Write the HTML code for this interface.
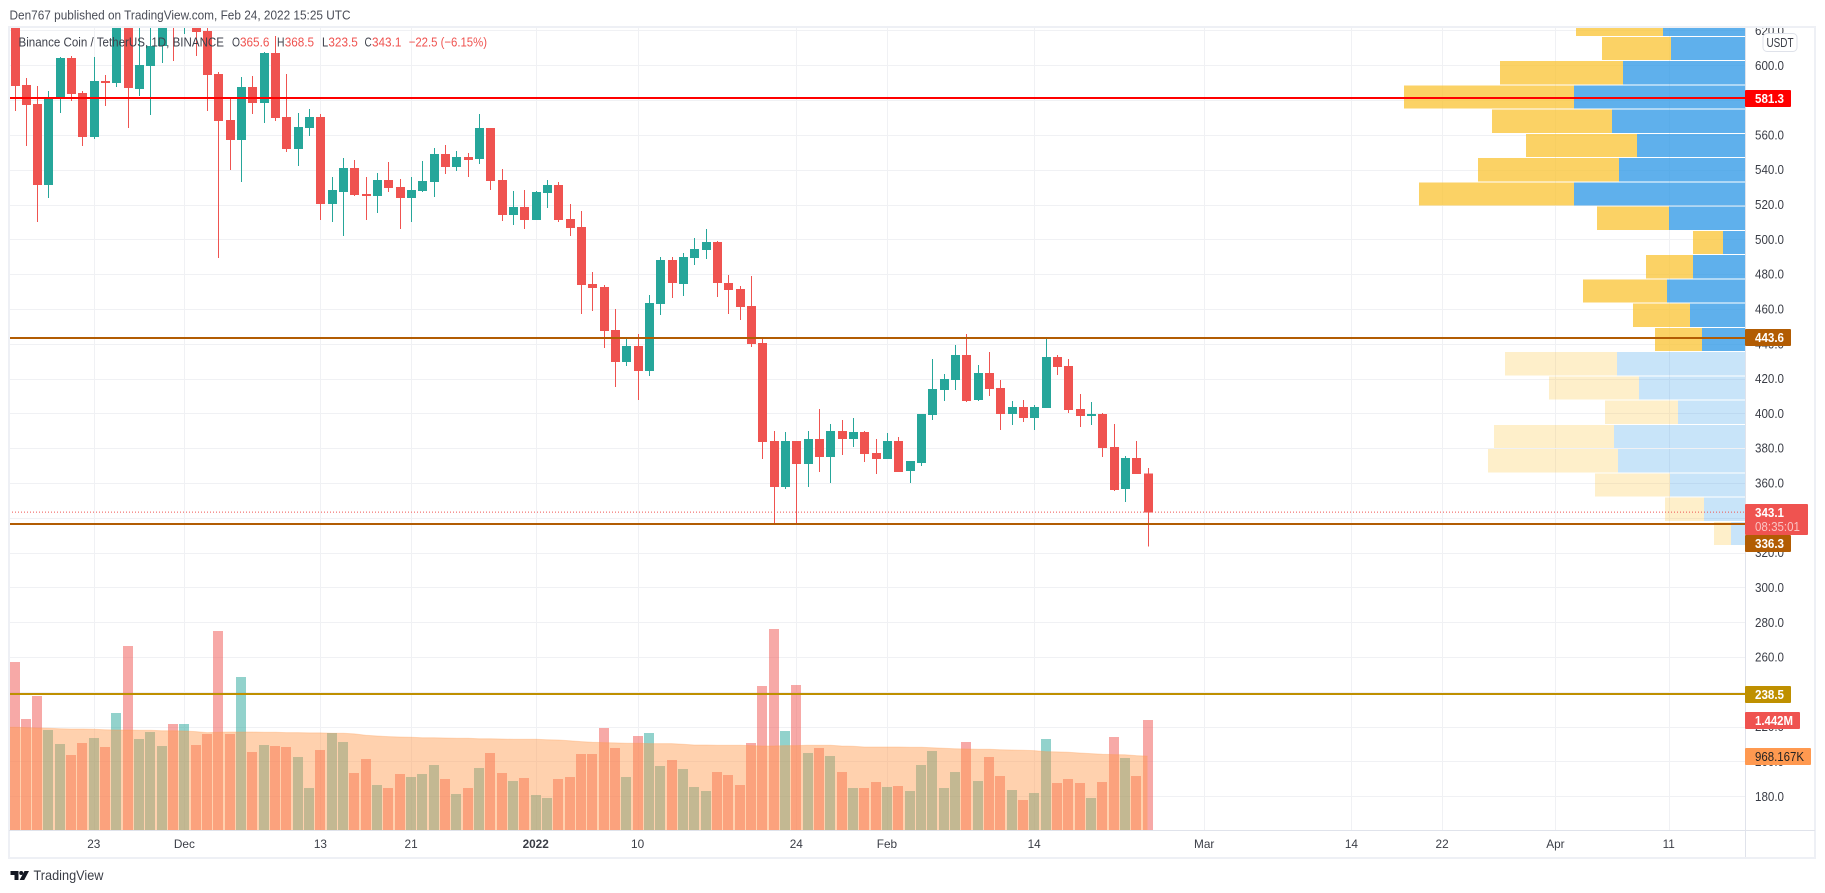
<!DOCTYPE html>
<html lang="en">
<head>
<meta charset="utf-8">
<title>BNB/USDT TradingView chart</title>
<style>
html,body{margin:0;padding:0;background:#fff;width:1825px;height:893px;overflow:hidden}
svg{display:block;font-family:"Liberation Sans",sans-serif}
.ax{font-size:12.5px;fill:#3a3d46}
.lb{font-size:12.5px;fill:#fff;font-weight:700}
.lg{font-size:13px;fill:#3f424c}
.lv{font-size:13px;fill:#ef5350}
</style>
</head>
<body>
<svg id="chart" xmlns="http://www.w3.org/2000/svg" width="1825" height="893" viewBox="0 0 1825 893">
  <defs>
    <clipPath id="pane"><rect x="9" y="28" width="1736" height="802"/></clipPath>
    <clipPath id="axisclip"><rect x="1746" y="28" width="68" height="802"/></clipPath>
  </defs>
  <rect width="1825" height="893" fill="#fff"/>
  <text x="9.5" y="19.5" font-size="13" fill="#4a4d57" textLength="341" lengthAdjust="spacingAndGlyphs">Den767 published on TradingView.com, Feb 24, 2022 15:25 UTC</text>
  <g id="gridLayer"></g>
  <g clip-path="url(#pane)">
    <g id="volumeLayer"></g>
    <g id="maLayer"></g>
    <g id="profileLayer"></g>
    <g id="candleLayer"></g>
    <g id="levelLayer"></g>
  </g>
  <g fill="none">
    <rect x="9" y="27" width="1806" height="831" stroke="#eef0f5" stroke-width="2"/>
    <line x1="1745.5" y1="28" x2="1745.5" y2="857" stroke="#e0e3eb"/>
    <line x1="9" y1="830.5" x2="1815" y2="830.5" stroke="#e0e3eb"/>
  </g>
  <g id="priceAxisLayer" clip-path="url(#axisclip)"></g>
  <g id="timeAxisLayer"></g>
  <g id="labelLayer"></g>
  <g>
    <text class="lg" x="18.5" y="46.5" textLength="205.5" lengthAdjust="spacingAndGlyphs">Binance Coin / TetherUS, 1D, BINANCE</text>
    <text class="lg" x="232" y="46.5" textLength="8" lengthAdjust="spacingAndGlyphs">O</text>
    <text class="lv" x="240" y="46.5" textLength="29.4" lengthAdjust="spacingAndGlyphs">365.6</text>
    <text class="lg" x="277" y="46.5" textLength="7.5" lengthAdjust="spacingAndGlyphs">H</text>
    <text class="lv" x="284.7" y="46.5" textLength="29.4" lengthAdjust="spacingAndGlyphs">368.5</text>
    <text class="lg" x="322" y="46.5" textLength="6.2" lengthAdjust="spacingAndGlyphs">L</text>
    <text class="lv" x="328.4" y="46.5" textLength="29.4" lengthAdjust="spacingAndGlyphs">323.5</text>
    <text class="lg" x="364.5" y="46.5" textLength="7.2" lengthAdjust="spacingAndGlyphs">C</text>
    <text class="lv" x="372" y="46.5" textLength="29.4" lengthAdjust="spacingAndGlyphs">343.1</text>
    <text class="lv" x="408.7" y="46.5" textLength="78.3" lengthAdjust="spacingAndGlyphs">−22.5 (−6.15%)</text>
  </g>
  <g>
    <rect x="1763" y="33.5" width="34" height="18" rx="4" fill="#fff" stroke="#dfe2ea"/>
    <text x="1766.5" y="47" font-size="12.5" fill="#3a3d46" textLength="27" lengthAdjust="spacingAndGlyphs">USDT</text>
  </g>
  <g>
    <g fill="#131722">
      <rect x="10.5" y="871" width="8" height="4"/>
      <rect x="14.5" y="871" width="4" height="9"/>
      <circle cx="21.2" cy="873" r="2"/>
      <polygon points="24.5,871 29,871 24.2,880 19.6,880"/>
    </g>
    <text x="33.5" y="880" font-size="13.6" fill="#3a3d46" textLength="70" lengthAdjust="spacingAndGlyphs">TradingView</text>
  </g>
</svg>
<script>
const openPrices = [632,588.7,577.8,531.2,580.8,604.2,584.1,558.8,591,589.8,628,586.4,599.6,611.1,650,630,640,619.7,595,568.6,557.1,587.5,578.3,607,570.3,551.9,564,570.3,520.3,527.2,541,526,524.9,534.1,530.1,523.7,527.8,532.9,549,541.6,547.3,546.2,564,534.1,514,518.6,511.1,526.6,531.2,511.7,507.1,474.3,472.6,447.9,429.5,438.7,424.4,462.8,488.1,474.3,489.3,493.9,498.5,474.9,471.5,461.7,440.4,384.1,357.7,384.1,370.9,385.3,374.9,389.9,385.3,389.3,377.2,373.8,384.1,366.9,371.5,399.1,413.4,419.2,433.5,407.7,423.2,414.6,399.7,403.7,397.4,403.1,432.4,427.2,402.5,398.5,399.7,380.7,356.6,374.4,365.6];
const highPrices = [645,592.7,588.1,585.2,604.9,605.3,585.2,604.9,594.4,640,634,625,627,640,655,655,650,632,596.1,581.8,593.3,593.8,607.6,616.8,595,572.6,574.9,572,535.8,546.7,545.6,535.8,538.1,544.4,534.7,535.8,545,552.5,554.2,550.7,549.6,572,564,540.4,527.8,528.3,527.8,534.1,532.9,520.3,516.3,481.2,473.8,460,443.3,445.6,468,489.8,489.8,492.2,500.8,505.9,499,479.5,473.2,478.9,443.9,389.9,389.3,384.1,389.9,402.5,393.9,396.2,397.4,389.9,385.3,388.7,386.4,372.7,399.7,431.3,422.6,439.3,445.6,427.8,435.3,419.2,407.1,407.7,404.8,443.3,433.5,431.3,411.2,406.5,400.2,393.9,375.5,384.1,368.5];
const lowPrices = [573.7,553.6,510,523.7,572.6,579.5,553.6,557.6,576.6,587.5,564,582.3,571.4,601.3,602.5,618,605.3,573.7,489.3,539.8,532.9,572,566.8,568,550.2,542.1,559.4,511.1,510,501.9,524.9,511.1,515.1,527.2,505.9,510,527.2,524.3,537.5,539.3,535.8,543.3,528.3,510.5,508.2,505.9,511.1,518,510,501.9,457.1,458.8,437.6,415.2,427.2,407.7,421.5,456.5,466.3,467.4,485.3,488.7,466.9,457.1,453.7,438.1,373.8,336.8,356.6,336.8,357.7,366.3,360,376.1,380.7,372.1,365.2,373.8,366.3,360,369.8,396.2,407.1,413.4,406.5,407.1,410,390.5,393.3,395.1,390.5,403.1,422.1,400.2,392.2,393.3,374.9,355.4,349.1,365.2,323.5];
const closePrices = [588.1,577.2,531.2,581.4,604.2,583.5,558.8,591,589.8,628,586.9,600.2,611.1,628,630,648,619.1,594.4,568,557.1,587.5,578.3,607,569.7,551.9,564.5,570.3,520.3,528.3,541,525.5,524.9,534.1,529.5,523.7,528.3,533.5,549,541.6,547.3,545.6,564,533.5,514,518.6,511.1,527.2,531.2,511.1,506.5,473.8,472,447.3,429.5,438.7,424.4,463.4,488.1,474.9,489.8,494.4,498.5,474.9,470.9,461.1,439.9,383.6,357.7,384.1,370.9,385.3,374.9,389.9,385.3,389.3,376.7,373.8,384.1,366.3,372.7,399.7,414,419.8,433.5,407.1,423.2,414,399.7,403.7,397.4,403.7,432.4,426.7,402,398.5,399.7,380.1,356,374.4,365.2,343.1];
const volumes = [2.202,1.455,1.756,1.311,1.127,0.983,1.14,1.206,1.088,1.534,2.412,1.193,1.285,1.101,1.39,1.39,1.114,1.259,2.609,1.259,2.006,1.023,1.114,1.101,1.088,0.957,0.551,1.049,1.272,1.154,0.747,0.931,0.59,0.551,0.734,0.695,0.734,0.852,0.669,0.472,0.551,0.813,1.009,0.747,0.642,0.682,0.459,0.42,0.669,0.695,0.996,0.996,1.337,1.075,0.695,1.232,1.272,0.839,0.918,0.8,0.564,0.511,0.76,0.721,0.59,1.14,1.888,2.635,1.298,1.901,1.009,1.075,0.97,0.76,0.551,0.551,0.629,0.564,0.577,0.511,0.852,1.036,0.551,0.76,1.154,0.642,0.957,0.708,0.524,0.393,0.485,1.193,0.616,0.669,0.616,0.42,0.629,1.219,0.944,0.708,1.442];
const volumeAverage = [1.346,1.342,1.337,1.333,1.328,1.324,1.324,1.32,1.315,1.311,1.311,1.307,1.307,1.302,1.302,1.298,1.289,1.276,1.28,1.285,1.285,1.285,1.28,1.28,1.276,1.276,1.272,1.272,1.267,1.267,1.259,1.241,1.232,1.224,1.219,1.215,1.21,1.21,1.206,1.202,1.202,1.197,1.197,1.193,1.189,1.189,1.189,1.184,1.18,1.171,1.158,1.149,1.145,1.141,1.136,1.136,1.132,1.132,1.132,1.123,1.114,1.114,1.11,1.11,1.11,1.106,1.101,1.101,1.106,1.106,1.11,1.11,1.11,1.101,1.097,1.088,1.088,1.088,1.088,1.084,1.084,1.079,1.071,1.066,1.062,1.058,1.058,1.053,1.049,1.044,1.04,1.027,1.023,1.018,1.009,1.001,0.992,0.988,0.985,0.975,0.968];
const priceTicks = [620,600,580,560,540,520,500,480,460,440,420,400,380,360,340,320,300,280,260,240,220,200,180];
const priceTickLabels = ['620.0','600.0','','560.0','540.0','520.0','500.0','480.0','460.0','440.0','420.0','400.0','380.0','360.0','','320.0','300.0','280.0','260.0','','220.0','200.0','180.0'];
const timeTickIndex = [7,15,27,35,46,55,69,77,90,105,118,126,136,146];
const timeTickLabels = ['23','Dec','13','21','2022','10','24','Feb','14','Mar','14','22','Apr','11'];
const profileBuy = [0.82,0.74,1.22,1.71,1.33,1.08,1.26,1.71,0.76,0.22,0.52,0.78,0.55,0.43,1.28,1.06,0.67,1.31,1.27,0.75,0.41,0.14];
const profileSell = [0.87,0.69,1.23,1.70,1.20,1.11,1.41,1.55,0.72,0.30,0.47,0.84,0.57,0.47,1.12,0.90,0.73,1.20,1.30,0.75,0.39,0.17];
const profileTopPrice = 630.25;
const profileStep = 13.93;
const profileVisibleRows = 14;

const NS = 'http://www.w3.org/2000/svg';
const UP = '#26a69a', DOWN = '#ef5350';
const PANE_LEFT = 9, PANE_RIGHT = 1745, PANE_TOP = 28, PANE_BOTTOM = 830;
function priceY(p){ return 65.3 + (600 - p) * 1.7405; }
function dayX(i){ return 14.5 + 11.33 * i; }
function volumeY(v){ return PANE_BOTTOM - v * 76.3; }
function profileWidth(v){ return v * 300 / 3; }
function make(parent, tag, attrs, text){
  const el = document.createElementNS(NS, tag);
  for (const k in attrs) el.setAttribute(k, attrs[k]);
  if (text !== undefined) el.textContent = text;
  document.getElementById(parent).appendChild(el);
  return el;
}
let el;

/* grid */
priceTicks.forEach(function(p){
  el = make('gridLayer','line',{x1:PANE_LEFT,x2:PANE_RIGHT,y1:Math.round(priceY(p))+0.5,y2:Math.round(priceY(p))+0.5,stroke:'#f0f1f4','stroke-width':1});
  
  
});
timeTickIndex.forEach(function(i){
  el = make('gridLayer','line',{x1:Math.round(dayX(i))+0.5,x2:Math.round(dayX(i))+0.5,y1:PANE_TOP,y2:PANE_BOTTOM,stroke:'#f0f1f4','stroke-width':1});
  
  
});

/* volume bars */
volumes.forEach(function(v,i){
  const up = closePrices[i] >= openPrices[i];
  const top = Math.round(volumeY(v));
  el = make('volumeLayer','rect',{x:Math.round(dayX(i)-5),y:top,width:10,height:PANE_BOTTOM-top,fill:up?UP:DOWN,'fill-opacity':0.5,'shape-rendering':'crispEdges'});
  
  
});

/* volume moving average area */
let pts = PANE_LEFT + ',' + volumeY(volumeAverage[0]);
volumeAverage.forEach(function(v,i){ pts += ' ' + dayX(i).toFixed(1) + ',' + volumeY(v).toFixed(1); });
const linePts = pts;
pts += ' ' + dayX(volumeAverage.length-1).toFixed(1) + ',' + PANE_BOTTOM + ' ' + PANE_LEFT + ',' + PANE_BOTTOM;
el = make('maLayer','polygon',{points:pts,fill:'#ff984c','fill-opacity':0.45});


el = make('maLayer','polyline',{points:linePts,fill:'none',stroke:'#ff984c','stroke-opacity':0.3,'stroke-width':1});



/* volume profile */
profileBuy.forEach(function(b,r){
  const s = profileSell[r];
  const top = priceY(profileTopPrice - r * profileStep);
  const h = profileStep * 1.7405 - 1;
  const bw = profileWidth(b), sw = profileWidth(s);
  const a = r < profileVisibleRows ? 0.75 : 0.26;
  el = make('profileLayer','rect',{x:(PANE_RIGHT-bw).toFixed(1),y:top.toFixed(1),width:bw.toFixed(1),height:h.toFixed(1),fill:'#2996e6','fill-opacity':a,'shape-rendering':'crispEdges'});
  
  
  el = make('profileLayer','rect',{x:(PANE_RIGHT-bw-sw).toFixed(1),y:top.toFixed(1),width:sw.toFixed(1),height:h.toFixed(1),fill:'#fac332','fill-opacity':a,'shape-rendering':'crispEdges'});
  
  
});

/* candles */
openPrices.forEach(function(o,i){
  const c = closePrices[i], h = highPrices[i], l = lowPrices[i];
  const col = c >= o ? UP : DOWN;
  const cx = Math.round(dayX(i));
  el = make('candleLayer','rect',{x:cx,y:priceY(h).toFixed(1),width:1,height:(priceY(l)-priceY(h)).toFixed(1),fill:col,'shape-rendering':'crispEdges'});
  
  
  const t = priceY(Math.max(o,c)), b = priceY(Math.min(o,c));
  el = make('candleLayer','rect',{x:cx-4,y:t.toFixed(1),width:9,height:Math.max(b-t,1).toFixed(1),fill:col,'shape-rendering':'crispEdges'});
  
  
});

/* horizontal levels */
const lastClose = closePrices[closePrices.length-1];
el = make('levelLayer','line',{x1:PANE_LEFT,x2:PANE_RIGHT,y1:priceY(lastClose)-0.3,y2:priceY(lastClose)-0.3,stroke:DOWN,'stroke-width':1,'stroke-dasharray':'1 2'});


const levelPrices = [581.3,443.6,336.3,238.5];
const levelColors = ['#ff0000','#b25c03','#b25c03','#bf9000'];
levelPrices.forEach(function(p,i){
  const y = Math.round(priceY(p));
  el = make('levelLayer','line',{x1:PANE_LEFT,x2:PANE_RIGHT,y1:y,y2:y,stroke:levelColors[i],'stroke-width':2,'shape-rendering':'crispEdges'});
  
  
});

/* axes */
priceTicks.forEach(function(p,i){
  if (!priceTickLabels[i]) return;
  el = make('priceAxisLayer','text',{x:1755,y:(priceY(p)+4.5).toFixed(1),class:'ax',textLength:29,lengthAdjust:'spacingAndGlyphs'},priceTickLabels[i]);
  
  
});
timeTickIndex.forEach(function(idx,i){
  const bold = timeTickLabels[i] === '2022';
  el = make('timeAxisLayer','text',{x:dayX(idx).toFixed(1),y:848,class:'ax','text-anchor':'middle','font-weight':bold?700:400,style:'font-size:11.8px'},timeTickLabels[i]);
  
  
});

/* price labels */
const labelText = ['581.3','443.6','336.3','238.5','1.442M','968.167K'];
const labelColor = ['#ff0000','#b25c03','#b25c03','#bf9000','#ef5350','#ff9950'];
const labelTop = [90,329,535,686,712,748];
const labelWidth = [46,46,46,46,55,66];
const labelTextWidth = [29,29,29,29,38,49];
el = make('labelLayer','rect',{x:1745,y:504,width:63,height:31,rx:1,fill:'#ef5350'});


el = make('labelLayer','text',{x:1755,y:517,class:'lb',textLength:29,lengthAdjust:'spacingAndGlyphs'},'343.1');


el = make('labelLayer','text',{x:1755,y:531,class:'lb','fill-opacity':0.65,style:'font-weight:400',textLength:45,lengthAdjust:'spacingAndGlyphs'},'08:35:01');


labelText.forEach(function(t,i){
  el = make('labelLayer','rect',{x:1745,y:labelTop[i],width:labelWidth[i],height:17,rx:1,fill:labelColor[i]});
  
  
  el = make('labelLayer','text',{x:1755,y:labelTop[i]+13,class:'lb',style:i===5?'fill:#222;font-weight:400':'',textLength:labelTextWidth[i],lengthAdjust:'spacingAndGlyphs'},t);
  
  
});
</script>
</body>
</html>
